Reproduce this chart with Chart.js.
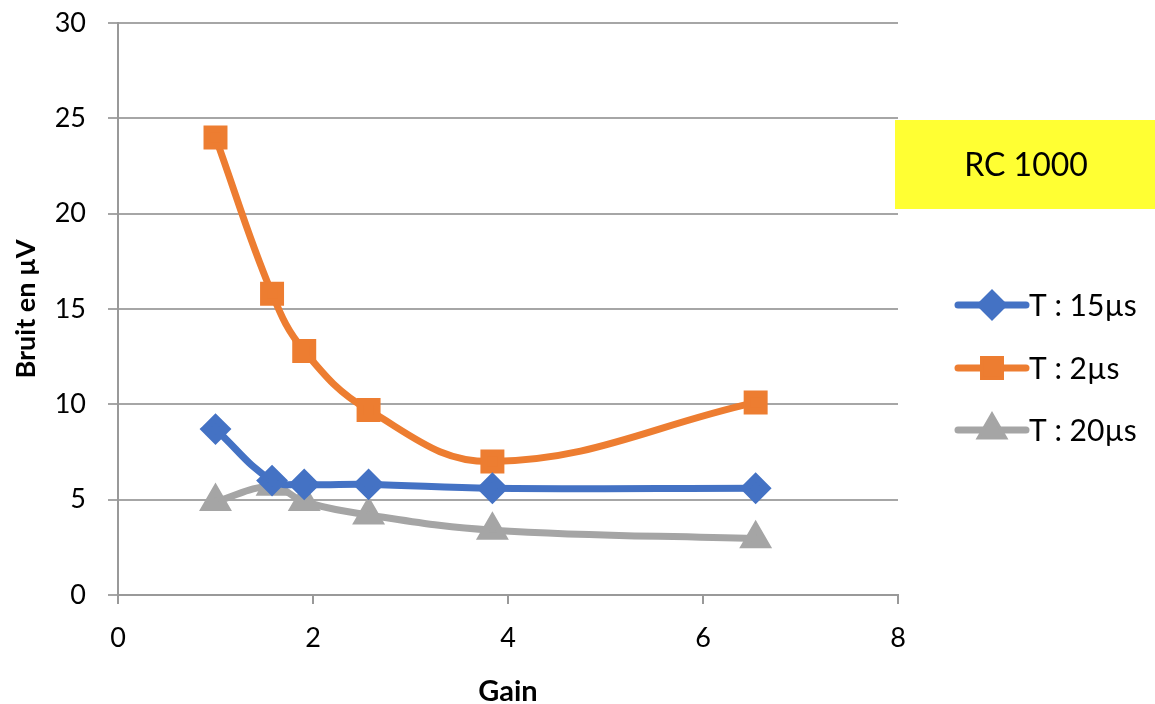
<!DOCTYPE html>
<html>
<head>
<meta charset="utf-8">
<script src="https://cdn.jsdelivr.net/npm/chart.js@4.4.1/dist/chart.umd.min.js"></script>
<style>
  html, body { margin: 0; padding: 0; background: #fff; }
  #wrap { width: 1155px; height: 704px; position: relative; }
</style>
</head>
<body>
<div id="wrap"><canvas id="chart" width="1155" height="704"></canvas></div>
<script>
const gain = [1, 1.58, 1.91, 2.57, 3.84, 6.54];
const bruit15 = [8.7, 6.0, 5.8, 5.8, 5.6, 5.6];
const bruit2 = [24.0, 15.8, 12.8, 9.7, 7.0, 10.1];
const bruit20 = [4.9, 5.7, 4.9, 4.2, 3.4, 2.95];
const seriesNames = ['T : 15µs', 'T : 2µs', 'T : 20µs'];
const boxLabel = 'RC 1000';

const FONT = 'Lato, "Open Sans", sans-serif';

function pts(ys) {
    return gain.map((g, i) => ({ x: g, y: ys[i] }));
}

// legend + yellow box drawn beside the plot
const sidePlugin = {
    id: 'side',
    afterDraw(chart) {
        const c = chart.ctx;
        c.save();
        c.fillStyle = '#ffff33';
        c.fillRect(895, 120, 260, 89);
        c.fillStyle = '#000';
        c.font = '32px ' + FONT;
        c.textAlign = 'center';
        c.textBaseline = 'middle';
        c.fillText(boxLabel, 1026, 166);

        const ys = [305, 368, 430];
        chart.data.datasets.forEach((ds, i) => {
            const y = ys[i];
            c.strokeStyle = ds.borderColor;
            c.lineWidth = 7;
            c.lineCap = 'round';
            c.beginPath();
            c.moveTo(958, y);
            c.lineTo(1026, y);
            c.stroke();
            Chart.helpers.drawPoint(c, {
                pointStyle: ds.pointStyle,
                radius: ds.pointRadius,
                borderWidth: 1
            }, 992, y);
            c.fillStyle = ds.backgroundColor;
            c.fill();
            c.fillStyle = '#000';
            c.font = '30px ' + FONT;
            c.textAlign = 'left';
            c.fillText(ds.label, 1029, y + 1);
        });
        c.restore();
    }
};

const ctx = document.getElementById('chart');
new Chart(ctx, {
    type: 'scatter',
    data: {
        datasets: [
            {
                label: seriesNames[0],
                data: pts(bruit15),
                showLine: true,
                borderColor: '#4472c4',
                backgroundColor: '#4472c4',
                borderWidth: 7,
                pointStyle: 'rectRot',
                pointRadius: 11,
                tension: 0.4
            },
            {
                label: seriesNames[1],
                data: pts(bruit2),
                showLine: true,
                borderColor: '#ed7d31',
                backgroundColor: '#ed7d31',
                borderWidth: 7,
                pointStyle: 'rect',
                pointRadius: 12,
                tension: 0.4
            },
            {
                label: seriesNames[2],
                data: pts(bruit20),
                showLine: true,
                borderColor: '#a5a5a5',
                backgroundColor: '#a5a5a5',
                borderWidth: 7,
                pointStyle: 'triangle',
                pointRadius: 12,
                tension: 0.4
            }
        ]
    },
    options: {
        responsive: false,
        animation: false,
        layout: { padding: { top: 23, right: 257, left: 0, bottom: 0 } },
        plugins: {
            legend: { display: false },
            tooltip: { enabled: false }
        },
        scales: {
            x: {
                type: 'linear',
                min: 0,
                max: 8,
                ticks: { stepSize: 2, color: '#000', font: { family: FONT, size: 27 }, padding: 18 },
                grid: { drawOnChartArea: false, drawTicks: true, tickLength: 9, color: '#999', lineWidth: 2 },
                border: { display: true, color: '#999', width: 2 },
                title: { display: true, text: 'Gain', color: '#000', font: { family: FONT, size: 29, weight: 'bold' }, padding: { top: 8, bottom: -5 } },
                afterFit(scale) {
                    scale.height = 109;
                    scale.paddingLeft = 0;
                    scale.paddingRight = 0;
                }
            },
            y: {
                min: 0,
                max: 30,
                ticks: { stepSize: 5, color: '#000', font: { family: FONT, size: 27 }, padding: 22 },
                grid: { color: '#a6a6a6', lineWidth: 2, tickLength: 10 },
                border: { display: true, color: '#999', width: 2 },
                title: { display: true, text: 'Bruit en µV', color: '#000', font: { family: FONT, size: 27, weight: 'bold' }, padding: { top: 10, bottom: 0 } },
                afterFit(scale) {
                    scale.width = 118;
                    scale.paddingTop = 0;
                    scale.paddingBottom = 0;
                }
            }
        }
    },
    plugins: [sidePlugin]
});
</script>
</body>
</html>
